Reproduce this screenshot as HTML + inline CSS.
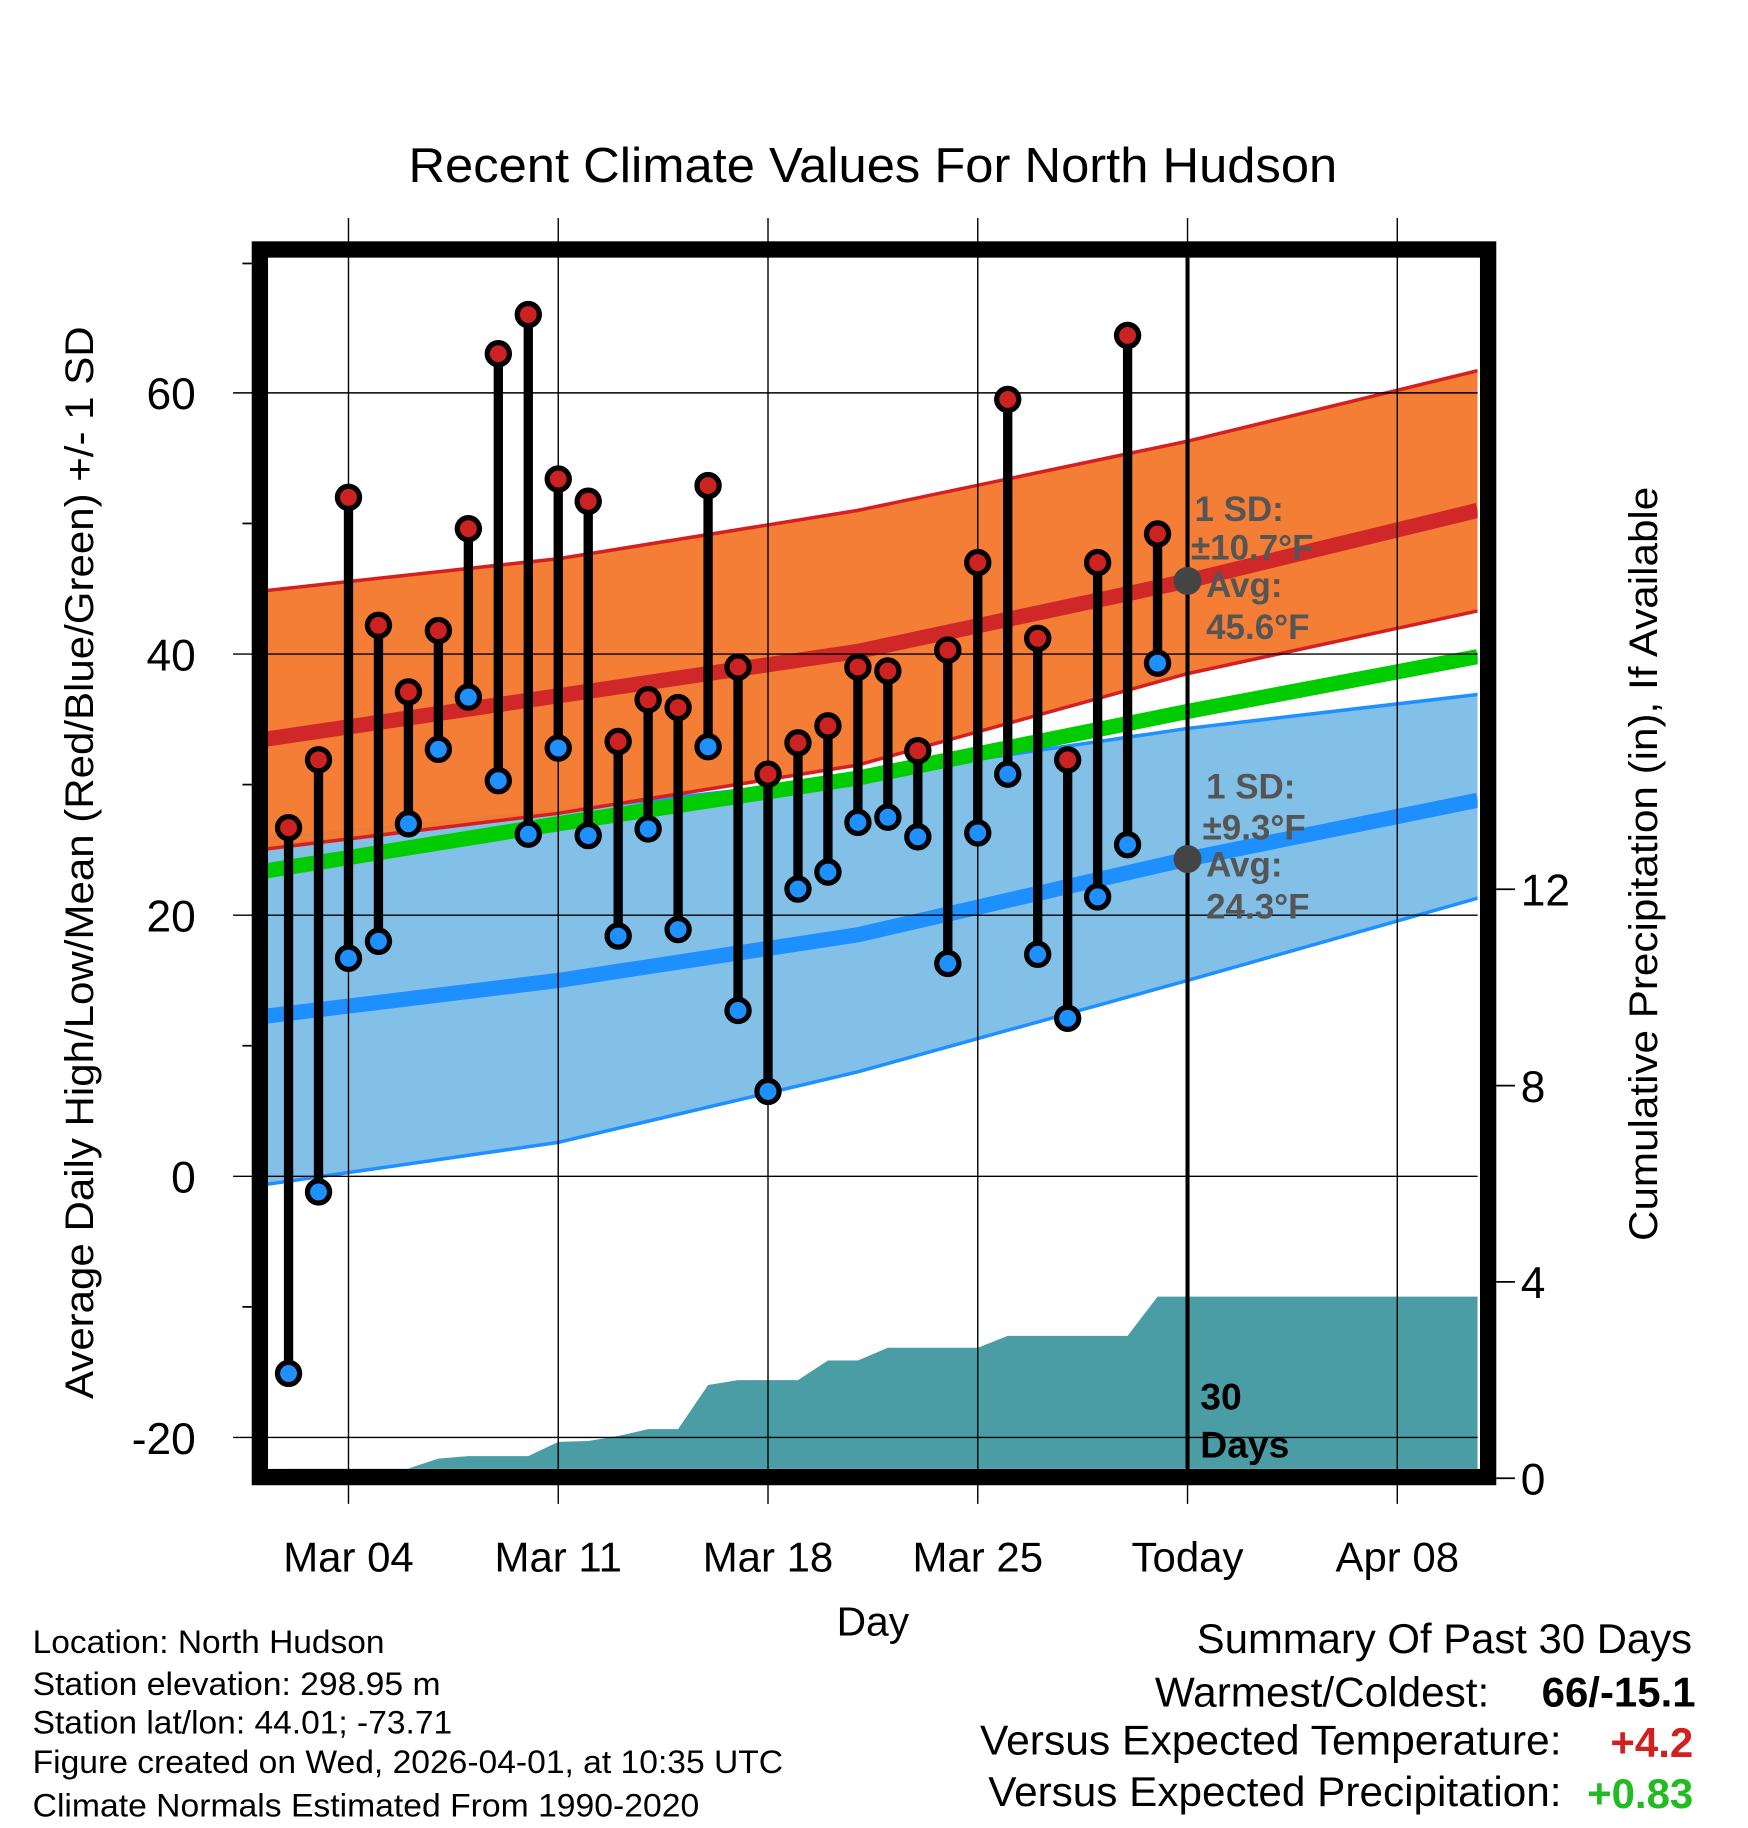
<!DOCTYPE html>
<html><head><meta charset="utf-8"><style>
html,body{margin:0;padding:0;background:#fff}
svg{display:block;font-family:"Liberation Sans",Arial,sans-serif}
</style></head><body>
<svg id="chart" width="1748" height="1828" viewBox="0 0 1500 1568" preserveAspectRatio="none" xmlns="http://www.w3.org/2000/svg">
<rect width="1500" height="1568" fill="#fff"/>
<text x="749" y="156" font-size="42" text-anchor="middle" textLength="797" lengthAdjust="spacingAndGlyphs">Recent Climate Values For North Hudson</text>
<g id="plot"></g>
<text transform="translate(80,740) rotate(-90)" font-size="34" text-anchor="middle" textLength="920" lengthAdjust="spacingAndGlyphs">Average Daily High/Low/Mean (Red/Blue/Green) +/- 1 SD</text>
<text transform="translate(1422,741) rotate(-90)" font-size="34" text-anchor="middle" textLength="647" lengthAdjust="spacingAndGlyphs">Cumulative Precipitation (in), If Available</text>
<text x="749" y="1403" font-size="35" text-anchor="middle">Day</text>
<g font-size="28">
<text x="28" y="1418" textLength="302" lengthAdjust="spacingAndGlyphs">Location: North Hudson</text>
<text x="28" y="1454" textLength="350" lengthAdjust="spacingAndGlyphs">Station elevation: 298.95 m</text>
<text x="28" y="1487" textLength="360" lengthAdjust="spacingAndGlyphs">Station lat/lon: 44.01; -73.71</text>
<text x="28" y="1521" textLength="644" lengthAdjust="spacingAndGlyphs">Figure created on Wed, 2026-04-01, at 10:35 UTC</text>
<text x="28" y="1558" textLength="572" lengthAdjust="spacingAndGlyphs">Climate Normals Estimated From 1990-2020</text>
</g>
<g font-size="36">
<text x="1027" y="1418" textLength="425" lengthAdjust="spacingAndGlyphs">Summary Of Past 30 Days</text>
<text x="991" y="1464" textLength="287" lengthAdjust="spacingAndGlyphs">Warmest/Coldest:</text>
<text x="1455" y="1464" text-anchor="end" font-weight="bold">66/-15.1</text>
<text x="841" y="1505" textLength="499" lengthAdjust="spacingAndGlyphs">Versus Expected Temperature:</text>
<text x="1453" y="1507" text-anchor="end" font-weight="bold" fill="#d02020">+4.2</text>
<text x="848" y="1549" textLength="492" lengthAdjust="spacingAndGlyphs">Versus Expected Precipitation:</text>
<text x="1453" y="1551" text-anchor="end" font-weight="bold" fill="#22bb22">+0.83</text>
</g>
</svg>
<script>
const highs=[26.7,31.9,52,42.2,37.1,41.8,49.6,63,66,53.4,51.7,33.3,36.5,35.9,52.9,39,30.8,33.2,34.5,39,38.7,32.6,40.3,47,59.5,41.2,31.9,47,64.4,49.2];
const lows=[-15.1,-1.2,16.7,18,27,32.7,36.7,30.3,26.2,32.8,26.1,18.4,26.6,18.9,32.9,12.7,6.5,22,23.3,27.1,27.5,26,16.3,26.3,30.8,17,12.1,21.4,25.4,39.3];
const precip=[0,0,0,0,0.2,0.4,0.45,0.45,0.45,0.74,0.76,0.86,1.0,1.0,1.9,2.0,2.0,2.0,2.4,2.4,2.66,2.66,2.66,2.66,2.9,2.9,2.9,2.9,2.9,3.7];
const normDays=[0,10,20,31,41];
const normHighMean=[33.4,36.8,40.2,45.6,51];
const normHighUp=[44.8,47.3,51,56.3,61.7];
const normHighLo=[25,27.8,31.5,38.5,43.3];
const normLowMean=[12.2,15,18.5,24.3,28.8];
const normLowUp=[25.8,28,30.6,34.3,36.9];
const normLowLo=[-0.7,2.6,8,15,21.3];
const normMean=[23.3,27,30.5,35.6,39.8];
const xTicks=["Mar 04","Mar 11","Mar 18","Mar 25","Today","Apr 08"];
const xTickDays=[3,10,17,24,31,38];
const yTicks=[60,40,20,0,-20];
const y2Ticks=[0,4,8,12];

const L=230,R=1268,T=221,B=1260;
const X=d=>221.9+d*180/7;
const Y=v=>1009-11.2*v;
const YP=p=>1268-42.1*p;
const NS="http://www.w3.org/2000/svg";
const plot=document.getElementById('plot');
function mk(tag,attrs,parent){const e=document.createElementNS(NS,tag);for(const k in attrs)e.setAttribute(k,attrs[k]);(parent||plot).appendChild(e);return e;}
const dEnd=(R-221.9)*7/180;
function xs(i){return normDays[i]===41?X(dEnd):X(normDays[i]);}
function linePts(arr){return arr.map((v,i)=>xs(i)+','+Y(v)).join(' ');}
function bandPts(up,lo){return up.map((v,i)=>xs(i)+','+Y(v)).concat(lo.map((v,i)=>xs(i)+','+Y(v)).reverse()).join(' ');}

const defs=mk('defs',{});
const cp=mk('clipPath',{id:'clip'},defs);mk('rect',{x:L,y:T,width:R-L,height:B-T},cp);
const g=mk('g',{'clip-path':'url(#clip)'});

let pp=[X(1)+','+B];
precip.forEach((p,i)=>pp.push(X(i+1)+','+YP(p)));
pp.push(R+','+YP(precip[precip.length-1]));pp.push(R+','+B);
const pa=mk('polygon',{points:pp.join(' '),fill:'#4a9ca5'},g);



const lb=mk('polygon',{points:bandPts(normLowUp,normLowLo),fill:'#82c0e8'},g);


mk('polyline',{points:linePts(normLowUp),fill:'none',stroke:'#1e90ff','stroke-width':3},g);
mk('polyline',{points:linePts(normLowLo),fill:'none',stroke:'#1e90ff','stroke-width':3},g);
const hb=mk('polygon',{points:bandPts(normHighUp,normHighLo),fill:'#f47a30','fill-opacity':'0.97'},g);


mk('polyline',{points:linePts(normHighUp),fill:'none',stroke:'#d42020','stroke-width':3},g);
mk('polyline',{points:linePts(normHighLo),fill:'none',stroke:'#d42020','stroke-width':3},g);
const hm=mk('polyline',{points:linePts(normHighMean),fill:'none',stroke:'#d02828','stroke-width':13},g);


const lm=mk('polyline',{points:linePts(normLowMean),fill:'none',stroke:'#1e8fff','stroke-width':13},g);


const gm=mk('polyline',{points:linePts(normMean),fill:'none',stroke:'#00cc00','stroke-width':13},g);



yTicks.forEach(v=>{
  mk('line',{x1:200,x2:R,y1:Y(v),y2:Y(v),stroke:'#000','stroke-width':1.2});
  const t=mk('text',{x:168,y:Y(v)+14,'font-size':38,'text-anchor':'end'});t.textContent=v;
  
  
});
[50,30,10,-10].forEach(v=>mk('line',{x1:208,x2:216,y1:Y(v),y2:Y(v),stroke:'#000','stroke-width':1.5}));
mk('line',{x1:208,x2:216,y1:226,y2:226,stroke:'#000','stroke-width':1.5});
xTicks.forEach((s,i)=>{
  const x=X(xTickDays[i]);
  mk('line',{x1:x,x2:x,y1:187,y2:1290,stroke:'#000','stroke-width':1.2});
  const t=mk('text',{x:x,y:1348,'font-size':36,'text-anchor':'middle'});t.textContent=s;
  
  
});
y2Ticks.forEach(p=>{
  mk('line',{x1:1284,x2:1300,y1:YP(p),y2:YP(p),stroke:'#000','stroke-width':1.5});
  const t=mk('text',{x:1305,y:YP(p)+14,'font-size':38});t.textContent=p;
  
  
});
const tl=mk('line',{x1:X(31),x2:X(31),y1:T,y2:B,stroke:'#000','stroke-width':3.5});



highs.forEach((h,i)=>{
  const x=X(i+1);
  const st=mk('line',{x1:x,x2:x,y1:Y(h),y2:Y(lows[i]),stroke:'#000','stroke-width':8});
  
  
});
highs.forEach((h,i)=>{
  const x=X(i+1);
  const c1=mk('circle',{cx:x,cy:Y(h),r:9.5,fill:'#cc2222',stroke:'#000','stroke-width':4.5});
  
  
  const c2=mk('circle',{cx:x,cy:Y(lows[i]),r:9.5,fill:'#1e90ff',stroke:'#000','stroke-width':4.5});
  
  
});
const ann=mk('g',{'font-size':30,'font-weight':'bold',fill:'#555'});


[["1 SD:",1025,447],["\u00b110.7\u00b0F",1022,480],["Avg:",1035,512],["45.6\u00b0F",1035,548],
 ["1 SD:",1035,685],["\u00b19.3\u00b0F",1032,720],["Avg:",1035,752],["24.3\u00b0F",1035,788]].forEach(a=>{
  const t=mk('text',{x:a[1],y:a[2]},ann);t.textContent=a[0];});
mk('circle',{cx:X(31),cy:Y(45.6),r:12,fill:'#444'});
mk('circle',{cx:X(31),cy:Y(24.3),r:12,fill:'#444'});
const dl=mk('g',{'font-size':32,'font-weight':'bold',fill:'#000'});


let t1=mk('text',{x:1030,y:1209},dl);t1.textContent='30';
let t2=mk('text',{x:1030,y:1250},dl);t2.textContent='Days';
const fr=mk('rect',{x:223,y:214,width:1054,height:1053,fill:'none',stroke:'#000','stroke-width':14});


</script>
</body></html>
